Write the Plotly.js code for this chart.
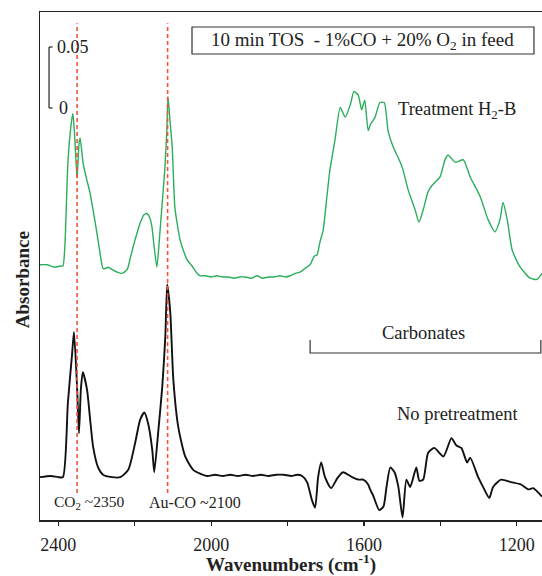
<!DOCTYPE html>
<html>
<head>
<meta charset="utf-8">
<script src="https://cdn.plot.ly/plotly-3.0.1.min.js"></script>
<style>
  html, body { margin: 0; padding: 0; background: #fff; }
  #chart { width: 542px; height: 576px; }
</style>
</head>
<body>
<div id="chart"></div>
<script>
// DRIFTS spectra after 10 min time on stream (1% CO + 20% O2 feed)

// Treatment H2-B spectrum: wavenumber (cm-1) and absorbance above its baseline
const wnH2B = [2448, 2430, 2410, 2395, 2388, 2383, 2375, 2368, 2362, 2357, 2351, 2346, 2343, 2335, 2325,
  2317, 2308, 2299, 2291, 2283, 2276, 2270, 2259, 2246, 2233, 2220, 2212, 2204, 2195, 2186,
  2176, 2168, 2160, 2155, 2149, 2142, 2136, 2129, 2121, 2116, 2113, 2108, 2102, 2095, 2088,
  2081, 2072, 2063, 2050, 2037, 2029, 2015, 2000, 1985, 1970, 1955, 1940, 1925, 1910, 1895,
  1880, 1865, 1850, 1835, 1820, 1805, 1793, 1780, 1767, 1755, 1741, 1730, 1723, 1715, 1707,
  1697, 1689, 1676, 1662, 1649, 1636, 1626, 1615, 1606, 1598, 1589, 1583, 1571, 1558, 1547,
  1537, 1524, 1505, 1498, 1484, 1466, 1456, 1445, 1432, 1422, 1401, 1388, 1380, 1361, 1340,
  1322, 1296, 1275, 1257, 1244, 1236, 1225, 1212, 1191, 1165, 1147, 1134];
const absH2B = [0.001, 0.001, -0.001, 0.000, 0.000, 0.016, 0.084, 0.112, 0.125, 0.105, 0.072, 0.100, 0.105, 0.084, 0.070,
  0.060, 0.044, 0.027, 0.011, -0.002, -0.002, -0.001, -0.003, -0.005, -0.006, -0.003, 0.006, 0.016, 0.026, 0.035,
  0.042, 0.043, 0.039, 0.032, 0.015, -0.001, 0.020, 0.048, 0.081, 0.111, 0.139, 0.120, 0.098, 0.048, 0.033,
  0.021, 0.012, 0.005, 0.000, -0.006, -0.008, -0.008, -0.009, -0.008, -0.009, -0.009, -0.010, -0.009, -0.009, -0.010,
  -0.008, -0.010, -0.009, -0.009, -0.008, -0.009, -0.008, -0.006, -0.005, -0.002, 0.001, 0.008, 0.009, 0.020, 0.029,
  0.057, 0.079, 0.103, 0.130, 0.122, 0.132, 0.143, 0.140, 0.128, 0.136, 0.111, 0.116, 0.122, 0.134, 0.134,
  0.111, 0.098, 0.085, 0.079, 0.062, 0.046, 0.036, 0.046, 0.061, 0.066, 0.073, 0.087, 0.091, 0.085, 0.087,
  0.073, 0.057, 0.038, 0.028, 0.038, 0.052, 0.038, 0.013, -0.001, -0.010, -0.011, -0.006];

// No pretreatment spectrum
const wnNoPre = [2448, 2420, 2400, 2388, 2375, 2364, 2359, 2351, 2346, 2341, 2336, 2325, 2317, 2309, 2296,
  2283, 2260, 2238, 2217, 2199, 2186, 2175, 2165, 2154, 2149, 2138, 2128, 2120, 2115, 2107,
  2099, 2086, 2068, 2047, 2029, 2010, 1990, 1970, 1950, 1930, 1910, 1890, 1870, 1850, 1830,
  1810, 1790, 1775, 1762, 1749, 1736, 1728, 1720, 1712, 1702, 1686, 1670, 1655, 1631, 1615,
  1602, 1589, 1584, 1576, 1560, 1549, 1541, 1531, 1520, 1510, 1499, 1489, 1479, 1463, 1455,
  1445, 1432, 1416, 1392, 1371, 1358, 1345, 1330, 1322, 1301, 1285, 1272, 1262, 1241, 1215,
  1189, 1170, 1157, 1134];
const absNoPre = [-0.001, 0.000, -0.001, -0.001, 0.060, 0.100, 0.118, 0.073, 0.035, 0.071, 0.085, 0.071, 0.047, 0.024, 0.007,
  0.001, -0.001, -0.001, 0.005, 0.027, 0.046, 0.052, 0.043, 0.021, 0.003, 0.038, 0.073, 0.114, 0.157, 0.134,
  0.079, 0.040, 0.016, 0.005, 0.002, 0.000, 0.001, 0.000, 0.001, 0.000, 0.001, 0.000, 0.001, 0.000, 0.001,
  0.001, 0.000, 0.001, 0.000, -0.005, -0.020, -0.026, -0.001, 0.011, -0.001, -0.010, -0.002, 0.003, -0.001, -0.003,
  -0.003, -0.007, -0.011, -0.016, -0.028, -0.025, -0.009, 0.007, 0.003, -0.009, -0.034, -0.003, -0.009, 0.007, -0.004,
  -0.003, 0.019, 0.023, 0.016, 0.031, 0.025, 0.023, 0.011, 0.015, -0.001, -0.011, -0.018, -0.009, -0.003, -0.005,
  -0.007, -0.011, -0.010, -0.017];

// Band assignments marked with dashed guides
const bandCO2 = 2351;
const bandAuCO = 2114;

// Axis ticks
const tickValues = [2400, 2200, 2000, 1800, 1600, 1400, 1200];
const tickLabels = ['2400', '', '2000', '', '1600', '', '1200'];

// Vertical stacking of the two spectra
const offsetH2B = 0.2082;
const offsetNoPre = 0.0361;
// Scale bar: 0 to 0.05 absorbance units
const scaleZero = 0.3377;
const scaleStep = 0.05;

const serif = 'Liberation Serif, Times New Roman, serif';

const traces = [
  {
    x: wnH2B, y: absH2B.map(v => v + offsetH2B),
    type: 'scatter', mode: 'lines',
    line: { color: '#2aae5b', width: 1.4, shape: 'spline', smoothing: 0.6 },
    hoverinfo: 'x+y', showlegend: false
  },
  {
    x: wnNoPre, y: absNoPre.map(v => v + offsetNoPre),
    type: 'scatter', mode: 'lines',
    line: { color: '#111111', width: 1.9, shape: 'spline', smoothing: 0.6 },
    hoverinfo: 'x+y', showlegend: false
  }
];

const red = '#f2553c';
const shapes = [
  // dashed band guides
  { type: 'line', xref: 'x', yref: 'paper', x0: bandCO2, x1: bandCO2, y0: 0.053, y1: 0.978,
    line: { color: red, width: 1.6, dash: '4px,3px' } },
  { type: 'line', xref: 'x', yref: 'paper', x0: bandAuCO, x1: bandAuCO, y0: 0.053, y1: 0.978,
    line: { color: red, width: 1.6, dash: '4px,3px' } },
  // scale bar
  { type: 'line', xref: 'paper', yref: 'y', x0: 0.018, x1: 0.018, y0: scaleZero, y1: scaleZero + scaleStep,
    line: { color: '#222', width: 1.2 } },
  { type: 'line', xref: 'paper', yref: 'y', x0: 0.018, x1: 0.025, y0: scaleZero, y1: scaleZero,
    line: { color: '#222', width: 1.2 } },
  { type: 'line', xref: 'paper', yref: 'y', x0: 0.018, x1: 0.025, y0: scaleZero + scaleStep, y1: scaleZero + scaleStep,
    line: { color: '#222', width: 1.2 } },
  // feed condition box
  { type: 'rect', xref: 'paper', yref: 'paper', x0: 0.3028, x1: 0.984, y0: 0.9173, y1: 0.9705,
    line: { color: '#333', width: 1.2 }, fillcolor: 'rgba(0,0,0,0)' },
  // carbonate region bracket
  { type: 'path', xref: 'x', yref: 'paper',
    path: 'M 1741 0.3543 L 1741 0.3287 L 1137 0.3287 L 1137 0.3543',
    line: { color: '#333', width: 1.2 } }
];

const txt = (text, x, y, size, xanchor, xref, yref) => ({
  text, x, y, xref: xref || 'paper', yref: yref || 'paper',
  xanchor: xanchor || 'left', yanchor: 'middle', showarrow: false,
  font: { family: serif, size, color: '#222' }
});

const annotations = [
  txt('10 min TOS  - 1%CO + 20% O<sub>2</sub> in feed', 0.6434, 0.943, 19, 'center'),
  txt('Treatment H<sub>2</sub>-B', 0.709, 0.807, 18.5),
  txt('Carbonates', 1444, 0.368, 18.5, 'center', 'x'),
  txt('No pretreatment', 0.707, 0.2087, 18.5),
  txt('CO<sub>2</sub> ~2350', 0.024, 0.0354, 15.5),
  txt('Au-CO ~2100', 0.213, 0.0354, 16),
  txt('0.05', 0.03, scaleZero + scaleStep, 18, 'left', 'paper', 'y'),
  txt('0', 0.034, scaleZero, 18, 'left', 'paper', 'y'),
  // vertical axis title
  Object.assign(txt('<b>Absorbance</b>', 0, 0.472, 19, 'center'), { textangle: -90, xshift: -18 })
];

const layout = {
  width: 542, height: 576,
  margin: { l: 40, r: 0, t: 12, b: 56, pad: 0 },
  paper_bgcolor: '#fff', plot_bgcolor: '#fff',
  showlegend: false,
  xaxis: {
    range: [2448, 1134],
    tickvals: tickValues, ticktext: tickLabels,
    ticks: 'outside', ticklen: 4, tickwidth: 1.2, tickcolor: '#222',
    ticklabelstandoff: 4,
    showline: true, linecolor: '#222', linewidth: 1.5, mirror: true,
    showgrid: false, zeroline: false,
    tickfont: { family: serif, size: 18, color: '#222' },
    title: { text: '<b>Wavenumbers (cm<sup>-1</sup>)</b>', standoff: 9,
             font: { family: serif, size: 19, color: '#222' } }
  },
  yaxis: {
    range: [0, 0.4164],
    showticklabels: false, ticks: '',
    showline: true, linecolor: '#222', linewidth: 1.5, mirror: false,
    showgrid: false, zeroline: false
  },
  shapes, annotations
};

Plotly.newPlot('chart', traces, layout, { displayModeBar: false, staticPlot: true });
</script>
</body>
</html>
